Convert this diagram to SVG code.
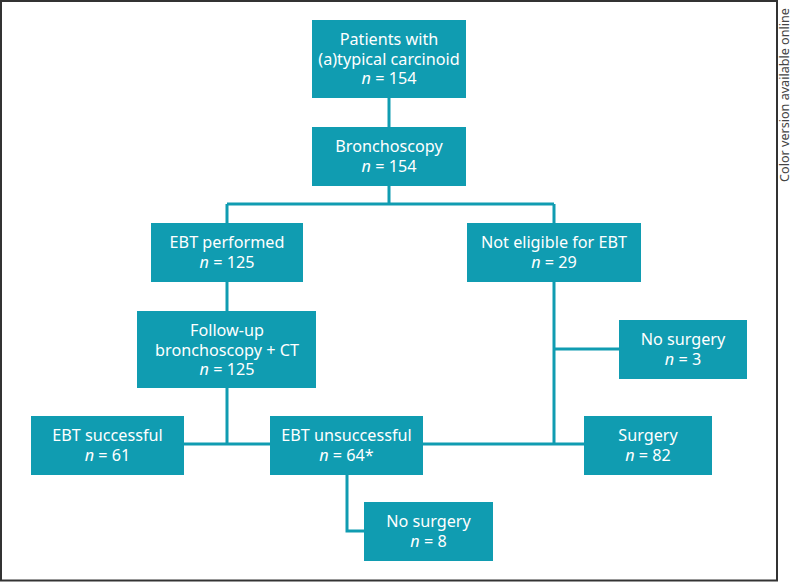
<svg xmlns="http://www.w3.org/2000/svg" width="793" height="582" viewBox="0 0 793 582">
<style>
.box{fill:#109cb1;}
.t{font-family:"Noto Sans","Open Sans",sans-serif;font-size:16.2px;fill:#fff;text-anchor:middle;}
.i{font-style:italic;}
.c{stroke:#109cb1;stroke-width:3;fill:none;}
</style>
<rect x="1" y="1" width="776" height="579.5" fill="#fff" stroke="#333" stroke-width="2"/>
<text x="789" y="95" transform="rotate(-90 789 95)" font-family="'Noto Sans','Open Sans',sans-serif" font-size="12.6" fill="#444" text-anchor="middle">Color version available online</text>
<g id="connectors">
<path class="c" d="M389 98V127"/>
<path class="c" d="M389 186V204M227 204H554M227 204V223M554 204V223"/>
<path class="c" d="M227 282V311"/>
<path class="c" d="M227 388V444M184 444H270"/>
<path class="c" d="M554 282V444M554 349H619M423 444H584"/>
<path class="c" d="M347 475V531H364"/>
</g>
<g id="n1"><rect class="box" x="312" y="20" width="154" height="78"/>
<text class="t" x="389" y="45">Patients with</text>
<text class="t" x="389" y="64.5">(a)typical carcinoid</text>
<text class="t" x="389" y="84"><tspan class="i">n</tspan> = 154</text></g>
<g id="n2"><rect class="box" x="312" y="127" width="154" height="59"/>
<text class="t" x="389" y="152">Bronchoscopy</text>
<text class="t" x="389" y="172"><tspan class="i">n</tspan> = 154</text></g>
<g id="n3"><rect class="box" x="151" y="223" width="152" height="59"/>
<text class="t" x="227" y="248">EBT performed</text>
<text class="t" x="227" y="268"><tspan class="i">n</tspan> = 125</text></g>
<g id="n4"><rect class="box" x="467" y="223" width="174" height="59"/>
<text class="t" x="554" y="248">Not eligible for EBT</text>
<text class="t" x="554" y="268"><tspan class="i">n</tspan> = 29</text></g>
<g id="n5"><rect class="box" x="137" y="311" width="179" height="77"/>
<text class="t" x="227" y="336">Follow-up</text>
<text class="t" x="227" y="355.5">bronchoscopy + CT</text>
<text class="t" x="227" y="375"><tspan class="i">n</tspan> = 125</text></g>
<g id="n6"><rect class="box" x="619" y="320" width="128" height="59"/>
<text class="t" x="683" y="345">No surgery</text>
<text class="t" x="683" y="365"><tspan class="i">n</tspan> = 3</text></g>
<g id="n7"><rect class="box" x="31" y="416" width="153" height="59"/>
<text class="t" x="107.5" y="441">EBT successful</text>
<text class="t" x="107.5" y="461"><tspan class="i">n</tspan> = 61</text></g>
<g id="n8"><rect class="box" x="270" y="416" width="153" height="59"/>
<text class="t" x="346.5" y="441">EBT unsuccessful</text>
<text class="t" x="346.5" y="461"><tspan class="i">n</tspan> = 64*</text></g>
<g id="n9"><rect class="box" x="584" y="416" width="128" height="59"/>
<text class="t" x="648" y="441">Surgery</text>
<text class="t" x="648" y="461"><tspan class="i">n</tspan> = 82</text></g>
<g id="n10"><rect class="box" x="364" y="502" width="129" height="59"/>
<text class="t" x="428.5" y="527">No surgery</text>
<text class="t" x="428.5" y="547"><tspan class="i">n</tspan> = 8</text></g>
</svg>
